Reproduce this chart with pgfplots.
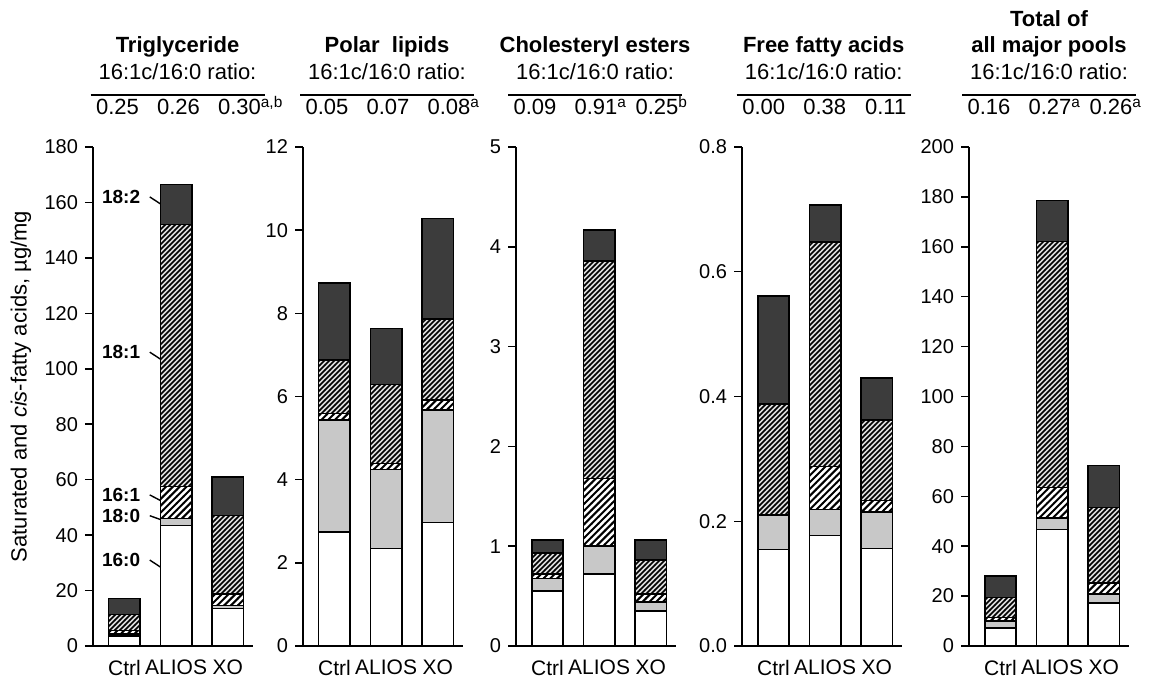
\documentclass[border=0pt]{standalone}
\usepackage{fontspec}
\setmainfont{Liberation Sans}
\usepackage{pgfplots}
\pgfplotsset{compat=1.18}
\usetikzlibrary{patterns}

\definecolor{darkfill}{HTML}{3C3C3C}
\definecolor{grayfill}{HTML}{C8C8C8}
\definecolor{hatchbg}{HTML}{DCDCDC}

% hatchings: dense one for 18:1, wider one for 16:1
\pgfdeclarepatternformonly{densehatch}{\pgfqpoint{-1pt}{-1pt}}{\pgfqpoint{3.5pt}{3.5pt}}{\pgfqpoint{2.5pt}{2.5pt}}%
{\pgfsetlinewidth{0.75pt}\pgfpathmoveto{\pgfqpoint{-0.1pt}{-0.1pt}}\pgfpathlineto{\pgfqpoint{2.6pt}{2.6pt}}\pgfusepath{stroke}}
\pgfdeclarepatternformonly{widehatch}{\pgfqpoint{-1pt}{-1pt}}{\pgfqpoint{4.5pt}{4.5pt}}{\pgfqpoint{3.4pt}{3.4pt}}%
{\pgfsetlinewidth{1pt}\pgfpathmoveto{\pgfqpoint{-0.1pt}{-0.1pt}}\pgfpathlineto{\pgfqpoint{3.5pt}{3.5pt}}\pgfusepath{stroke}}

\newcommand{\hdrsize}{\fontsize{11}{13}\selectfont}
\tikzset{lbl/.style={anchor=east, font=\bfseries\fontsize{9.5}{11}\selectfont}}

\pgfplotsset{
  panel/.style={
    scale only axis, width=80pt, height=249.5pt, anchor=south west,
    ybar stacked, bar width=0.61,
    xmin=-0.61, xmax=2.49, ymin=0,
    axis x line*=bottom, axis y line*=left,
    axis line style={line width=0.75pt},
    xtick={0,1,2}, xticklabels={Ctrl,ALIOS,XO},
    x tick style={draw=none},
    y tick style={line width=0.75pt, black},
    tick align=outside, major tick length=4pt,
    yticklabel style={font=\fontsize{10}{12}\selectfont},
    xticklabel style={font=\fontsize{10.5}{12}\selectfont, yshift=0.5pt},
    /pgf/number format/assume math mode=true,
    clip=false,
  },
  l160/.style={draw=black, line width=0.75pt, fill=white},
  l180/.style={draw=black, line width=0.75pt, fill=grayfill},
  l161/.style={draw=black, line width=0.75pt, fill=white,
    postaction={pattern=widehatch}},
  l181/.style={draw=black, line width=0.75pt, fill=hatchbg,
    postaction={pattern=densehatch}},
  l182/.style={draw=black, line width=0.75pt, fill=darkfill},
}

% header: centre x, three ratio values
\newcommand{\header}[4]{%
  \begin{scope}[xshift=#1]
    \node[anchor=base, font=\hdrsize] at (0,300pt) {16:1c/16:0 ratio:};
    \draw[line width=1pt] (-43.5pt,292.5pt) -- (43.5pt,292.5pt);
    \node[anchor=base, font=\hdrsize] at (-30pt,282.5pt) {#2};
    \node[anchor=base, font=\hdrsize] at (0.5pt,282.5pt) {#3};
    \node[anchor=base, font=\hdrsize] at (31pt,282.5pt) {#4};
  \end{scope}}
\newcommand{\supval}[2]{#1\rlap{\textsuperscript{#2}}}

\begin{document}
\begin{tikzpicture}
\path[use as bounding box] (0,0) rectangle (574.5pt,340pt);

% ---------------- Triglyceride
\begin{axis}[panel, at={(46.5pt,17pt)},
    ymax=180, ytick={0,20,...,180},
    ylabel={Saturated and \textit{cis}-fatty acids, µg/mg},
    ylabel style={font=\fontsize{11}{13}\selectfont,
      at={(axis description cs:-0.45,0.52)}, anchor=center}]
  \addplot[l160] coordinates {(0,3.6) (1,43.5) (2,13.6)};
  \addplot[l180] coordinates {(0,0.8) (1,2.5) (2,1.0)};
  \addplot[l161] coordinates {(0,1.2) (1,11.5) (2,4.2)};
  \addplot[l181] coordinates {(0,5.8) (1,94.5) (2,28.2)};
  \addplot[l182] coordinates {(0,5.8) (1,14.5) (2,14.0)};
  \node[lbl] at (axis cs:0.44,162) {18:2};
  \draw[line width=0.7pt] (axis cs:0.49,162) -- (axis cs:0.9,157);
  \node[lbl] at (axis cs:0.44,106) {18:1};
  \draw[line width=0.7pt] (axis cs:0.49,106) -- (axis cs:0.9,101);
  \node[lbl] at (axis cs:0.44,54.5) {16:1};
  \draw[line width=0.7pt] (axis cs:0.49,54.5) -- (axis cs:0.9,50.5);
  \node[lbl] at (axis cs:0.44,47) {18:0};
  \draw[line width=0.7pt] (axis cs:0.49,47) -- (axis cs:0.82,44.8);
  \node[lbl] at (axis cs:0.44,31) {16:0};
  \draw[line width=0.7pt] (axis cs:0.49,31) -- (axis cs:0.9,26);
\end{axis}

% ---------------- Polar lipids
\begin{axis}[panel, at={(151.5pt,17pt)},
    ymax=12, ytick={0,2,...,12}]
  \addplot[l160] coordinates {(0,2.74) (1,2.34) (2,2.97)};
  \addplot[l180] coordinates {(0,2.70) (1,1.90) (2,2.71)};
  \addplot[l161] coordinates {(0,0.15) (1,0.15) (2,0.23)};
  \addplot[l181] coordinates {(0,1.29) (1,1.90) (2,1.95)};
  \addplot[l182] coordinates {(0,1.85) (1,1.35) (2,2.42)};
\end{axis}

% ---------------- Cholesteryl esters
\begin{axis}[panel, at={(258pt,17pt)},
    ymax=5, ytick={0,1,...,5}]
  \addplot[l160] coordinates {(0,0.55) (1,0.72) (2,0.35)};
  \addplot[l180] coordinates {(0,0.125) (1,0.28) (2,0.09)};
  \addplot[l161] coordinates {(0,0.045) (1,0.68) (2,0.08)};
  \addplot[l181] coordinates {(0,0.21) (1,2.18) (2,0.34)};
  \addplot[l182] coordinates {(0,0.13) (1,0.31) (2,0.20)};
\end{axis}

% ---------------- Free fatty acids
\begin{axis}[panel, at={(371pt,17pt)},
    ymax=0.8, ytick={0,0.2,...,0.8},
    yticklabel style={/pgf/number format/.cd, fixed, fixed zerofill, precision=1}]
  \addplot[l160] coordinates {(0,0.155) (1,0.177) (2,0.156)};
  \addplot[l180] coordinates {(0,0.055) (1,0.042) (2,0.059)};
  \addplot[l161] coordinates {(0,0) (1,0.069) (2,0.018)};
  \addplot[l181] coordinates {(0,0.178) (1,0.360) (2,0.129)};
  \addplot[l182] coordinates {(0,0.173) (1,0.059) (2,0.068)};
\end{axis}

% ---------------- Total of all major pools
\begin{axis}[panel, at={(484.5pt,17pt)},
    ymax=200, ytick={0,20,...,200}]
  \addplot[l160] coordinates {(0,7.3) (1,46.7) (2,17.3)};
  \addplot[l180] coordinates {(0,2.8) (1,4.6) (2,3.5)};
  \addplot[l161] coordinates {(0,1.4) (1,12.3) (2,4.5)};
  \addplot[l181] coordinates {(0,7.9) (1,98.6) (2,30.3)};
  \addplot[l182] coordinates {(0,8.7) (1,16.4) (2,16.8)};
\end{axis}

% ---------------- headers
\begin{scope}[every node/.style={inner sep=0pt}]
  \node[anchor=base, font=\bfseries\hdrsize] at (88.75pt,313.5pt) {Triglyceride};
  \header{88.75pt}{0.25}{0.26}{\supval{0.30}{a,b}}
  \node[anchor=base, font=\bfseries\hdrsize] at (193.5pt,313.5pt) {Polar\ \ lipids};
  \header{193.5pt}{0.05}{0.07}{\supval{0.08}{a}}
  \node[anchor=base, font=\bfseries\hdrsize] at (297.5pt,313.5pt) {Cholesteryl esters};
  \header{297.5pt}{0.09}{\supval{0.91}{a}}{\supval{0.25}{b}}
  \node[anchor=base, font=\bfseries\hdrsize] at (411.85pt,313.5pt) {Free fatty acids};
  \header{411.85pt}{0.00}{0.38}{0.11}
  \node[anchor=base, font=\bfseries\hdrsize] at (524.5pt,326.5pt) {Total of};
  \node[anchor=base, font=\bfseries\hdrsize] at (524.5pt,313.5pt) {all major pools};
  \header{524.5pt}{0.16}{\supval{0.27}{a}}{\supval{0.26}{a}}
\end{scope}
\end{tikzpicture}
\end{document}
